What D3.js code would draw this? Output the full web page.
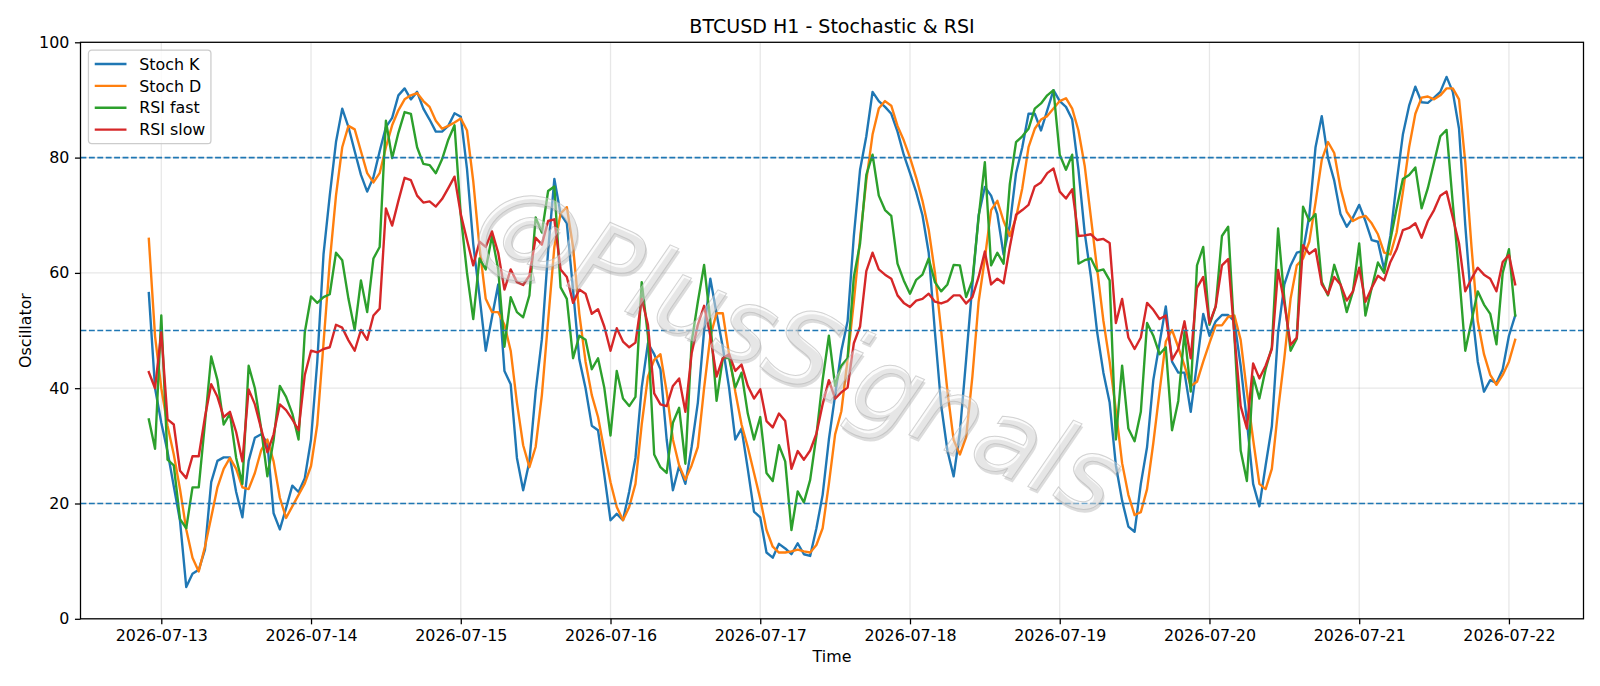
<!DOCTYPE html>
<html>
<head>
<meta charset="utf-8">
<script src="https://cdn.jsdelivr.net/npm/d3@7"></script>
<style>
  body { margin: 0; background: #fff; }
  svg { display: block; font-family: "DejaVu Sans", sans-serif; }
</style>
</head>
<body>
<script>
"use strict";
// hourly candles, the first one at 2026-07-12 22:00
const startTime = "2026-07-12T22:00:00Z"
const dayTicks = ["2026-07-13", "2026-07-14", "2026-07-15", "2026-07-16", "2026-07-17",
    "2026-07-18", "2026-07-19", "2026-07-20", "2026-07-21", "2026-07-22"]
const yTicks = [0, 20, 40, 60, 80, 100]
const levels = [80, 50, 20]
const seriesNames = ["Stoch K", "Stoch D", "RSI fast", "RSI slow"]
const watermark = "@PlusSignals"

const stochK = [
    56.5, 40, 34, 29, 23, 17, 5.5, 7.8, 8.5, 12,
    23.7, 27.4, 28, 28, 22, 17.6, 27.4, 31.4, 32, 30.5,
    18.3, 15.5, 19.2, 23.1, 22, 24.4, 31.1, 44.6, 63.2, 73.4,
    82.7, 88.5, 85.3, 81.1, 77, 74.1, 76.6, 81.1, 85.3, 86.9,
    90.8, 92, 90.1, 91.4, 88.5, 86.6, 84.5, 84.5, 85.5, 87.7,
    87.1, 78, 65, 56, 46.5, 52.3, 58, 43, 40.7, 27.9,
    22.3, 27.3, 39.4, 48.5, 63.8, 76.3, 70.2, 68.6, 57, 45,
    40, 33.5, 32.7, 25, 17.1, 18.2, 17.1, 22.1, 27.9, 40.1,
    47.8, 45.9, 43.3, 31.1, 22.3, 26.5, 23.4, 29.8, 37.5, 50,
    59, 52.9, 47.1, 40.1, 31.1, 33, 26, 18.6, 17.6, 11.5,
    10.6, 13, 12.2, 11.2, 13.1, 11.2, 10.9, 15.7, 21.5, 31.1,
    38.8, 46.5, 51.6, 66.4, 77.9, 83.7, 91.4, 89.8, 88.8, 87.6,
    84.5, 80.5, 77.3, 74, 70, 63.5, 49.7, 37, 29.2, 24.7,
    32.4, 45, 58, 70, 74.9, 73.4, 70.2, 63.2, 68.3, 77.3,
    81.8, 87.6, 87.6, 84.7, 88.2, 91.7, 89.8, 88.8, 86.6, 77.9,
    67, 59.3, 49.7, 42.7, 37.5, 26.6, 20.5, 16, 15.1, 23.4,
    29.8, 41.4, 47.8, 54.2, 44.6, 42.7, 42.7, 35.9, 44.3, 52.9,
    49.1, 51.6, 52.7, 52.7, 51.6, 43.9, 34.3, 23.4, 19.5, 26.6,
    33.4, 49.7, 58, 61.3, 63.5, 63.8, 69.9, 81.8, 87.2, 79.9,
    76, 70.2, 68, 69.6, 71.8, 69, 65.7, 65.4, 60.6, 66.4,
    75.7, 84, 89, 92.3, 89.6, 89.5, 90.4, 91.4, 94, 91.4,
    85, 68.3, 54.2, 44.6, 39.4, 41.4, 40.9, 43.3, 49.1, 52.6
]
const stochD = [
    65.9, 49, 40, 33.5, 28.5, 22.5, 15.5, 10.6, 8.2, 12.5,
    17.6, 22.8, 26, 27.9, 26, 22.8, 22.5, 25.3, 29.2, 31.1,
    27.3, 21, 17.5, 19.5, 21.5, 23.5, 26.5, 33.7, 47.8, 61.9,
    73.4, 81.8, 85.5, 84.9, 81.1, 77.3, 75.7, 77.3, 81.8, 85.6,
    88.2, 90.1, 90.8, 91.2, 89.8, 88.8, 86.4, 85, 85.5, 86.1,
    86.8, 84.7, 75.9, 64.5, 55.5, 53.2, 53.2, 51, 46.5, 37.5,
    30.1, 26.3, 29.8, 38.8, 51.7, 64.5, 70.3, 71.4, 64.5, 52.9,
    44.6, 38.8, 35, 29.2, 23.7, 19.4, 17.1, 19.4, 23.4, 33.7,
    42, 44.9, 45.9, 39.4, 31.1, 26.6, 24.1, 26.6, 29.8, 40,
    49, 53, 53, 45.9, 39.4, 33.7, 29.8, 25.3, 20.8, 15.4,
    12.5, 11.5, 11.5, 11.7, 12, 11.7, 11.5, 12.8, 15.7, 23.4,
    32, 36, 45, 55, 66, 76, 84, 88.5, 89.8, 89,
    85.5, 83, 80, 76.5, 72.5, 67.5, 60, 50, 39.5, 31,
    28.5, 31.5, 42, 55, 62.5, 70.9, 72.5, 69, 66.4, 69.6,
    74.7, 81.8, 85, 86.6, 87.2, 88.5, 89.8, 90.3, 88.5, 84.7,
    78.6, 69.6, 60.6, 51.7, 44.6, 36.2, 27, 21.5, 18, 18.5,
    22.5, 30.5, 39.4, 48.1, 50.1, 47.1, 43.9, 40.4, 41.1, 44.6,
    47.8, 50.9, 50.9, 52.4, 52.6, 48.4, 39.4, 31.1, 23.4, 22.5,
    26, 36.2, 45.2, 55.5, 61.3, 62.5, 65.4, 72.2, 79.6, 82.7,
    80.8, 74.7, 70.6, 69, 69.6, 69.9, 68.6, 66.7, 63.5, 63.2,
    67, 74, 81.8, 87.6, 90.4, 90.6, 90.1, 90.8, 92, 92,
    90.1, 79.2, 64.5, 51.6, 45.9, 42.3, 40.6, 42.3, 44.6, 48.4
]
const rsiFast = [
    34.6, 29.5, 52.6, 27.6, 26.6, 17.3, 15.7, 22.8, 22.8, 34,
    45.5, 41.4, 33.7, 35.6, 27.9, 23.4, 43.9, 40, 33, 24.7,
    31, 40.4, 38.5, 35.6, 31.1, 49.7, 55.9, 54.8, 55.8, 56.3,
    63.5, 62.2, 55.5, 50.1, 58.7, 53.2, 62.5, 64.5, 86.4, 79.9,
    84.3, 87.9, 87.6, 81.8, 78.9, 78.7, 77.3, 79.7, 83.1, 85.6,
    70, 60, 52, 62.5, 60.6, 66.4, 60.6, 47.2, 55.8, 53.2,
    52.3, 56.1, 69.6, 67, 74.2, 75, 57.5, 55.5, 45.2, 49.1,
    48.4, 43.3, 45.2, 40.1, 31.8, 43, 38.2, 36.9, 38.5, 58.4,
    49.1, 28.5, 26.3, 25.3, 34, 36.6, 26.9, 48, 55, 61.4,
    51.6, 37.8, 45.2, 45.3, 40.1, 42.7, 35.6, 31.1, 35, 25.3,
    23.9, 30.1, 27.3, 15.4, 22.1, 20.2, 24.1, 31.8, 41.4, 49.1,
    40.4, 43.9, 45.2, 59.3, 65.1, 77, 80.5, 73.4, 70.9, 69.9,
    61.6, 58.7, 56.4, 58.8, 59.7, 62.5, 58.4, 56.8, 58, 61.4,
    61.3, 55.8, 58.7, 69.6, 79.2, 61.3, 63.5, 61.6, 75.4, 82.7,
    83.7, 85, 88.5, 89.4, 90.8, 91.7, 80.5, 77.9, 80.5, 61.6,
    62.2, 62.5, 60.3, 60.6, 58.7, 31.1, 43.9, 33, 30.8, 35.9,
    51.3, 49.1, 45.9, 47.1, 32.7, 37.8, 49.7, 39.4, 61.3, 64.5,
    51, 54.2, 66.4, 68, 49.1, 29.2, 23.9, 42, 38.2, 43.3,
    47.1, 67.7, 55.5, 46.5, 48.6, 71.5, 69, 70.2, 58.4, 56.1,
    61.4, 58, 53.2, 56.8, 65.1, 52.6, 57.4, 61.8, 60, 65.7,
    71.2, 76.3, 77, 78.3, 71.2, 74.7, 79.2, 83.7, 84.8, 72,
    60, 46.5, 51.6, 56.8, 54.5, 52.9, 47.6, 60, 64.1, 52.6
]
const rsiSlow = [
    42.8, 40, 49.7, 34.6, 33.7, 25.7, 24.4, 28.2, 28.2, 35,
    40.7, 38.5, 35, 35.9, 32.4, 27.3, 39.8, 37.2, 33, 28.9,
    32, 37.2, 36.2, 34.6, 32.7, 42.3, 46.5, 46.2, 46.8, 47.1,
    51, 50.5, 48.3, 46.5, 50.1, 48.4, 52.6, 53.8, 71.2, 68.2,
    72.5, 76.5, 76.1, 73.4, 72.2, 72.4, 71.5, 72.8, 74.7, 76.7,
    70.2, 65.7, 61.3, 65.4, 64.5, 67.2, 63.5, 57.1, 60.6, 58.4,
    57.9, 59.5, 66.1, 64.9, 69, 69.3, 60.6, 59.3, 54.8, 57.1,
    56.4, 52.9, 53.7, 50.7, 46.5, 50.4, 48.1, 47.1, 47.9, 55.5,
    51, 39.1, 37.2, 36.9, 40.4, 41.7, 35.9, 46, 51, 54.3,
    49.1, 42, 45.2, 45.9, 43, 44.1, 40.4, 38.2, 39.8, 34.3,
    33.2, 35.6, 34.3, 26, 29.1, 27.6, 29.2, 32.1, 37.2, 41.4,
    38.2, 39.3, 40.1, 47.8, 50.7, 60.3, 63.5, 60.6, 59.7, 59,
    56.1, 54.8, 54.1, 55.2, 55.5, 56.4, 55, 54.7, 55.1, 56.1,
    56.1, 54.7, 55.8, 59.3, 63.7, 58, 59, 58.2, 64.5, 70.1,
    70.9, 71.8, 75, 75.7, 77.3, 78.1, 74.1, 72.9, 74.5, 66.4,
    66.5, 66.7, 65.7, 65.9, 65.2, 51.3, 55.5, 48.8, 46.8, 48.8,
    54.8, 53.6, 52, 52.6, 44.9, 46.8, 51.6, 45.2, 57.4, 59.3,
    51.3, 54.2, 61.3, 62.4, 49.1, 36.9, 33, 44.3, 41.7, 43.9,
    46.8, 60.5, 54.8, 47.5, 48.8, 64.8, 63.3, 64.1, 58, 56.3,
    59.3, 58, 55.2, 56.8, 60.9, 55, 57.4, 59.5, 58.7, 61.9,
    64.1, 67.4, 67.8, 68.6, 66.1, 69, 70.9, 73.4, 74.1, 69.6,
    65.1, 56.8, 59, 60.9, 59.7, 59, 56.8, 61.9, 63.1, 58
]

const colors = ["#1f77b4", "#ff7f0e", "#2ca02c", "#d62728"]

// figure is 14x6 in at ~114 dpi, so 1pt = 1.587px
const pt = 1600 / 14 / 72
const measurements = {
    width: 1600,
    height: 686,
    left: 80.5,
    right: 1583.5,
    top: 42.3,
    bottom: 618.8
}
const fontSize = 10 * pt

const svgContainer = d3.select('body').append('svg')
    .attr('width', measurements.width)
    .attr('height', measurements.height)

const hour = 3600 * 1000
const t0 = new Date(startTime)
const times = stochK.map((d, i) => new Date(t0.getTime() + i * hour))
const tEnd = times[times.length - 1]
const pad = (tEnd - t0) * 0.05

const scaleX = d3.scaleUtc()
    .domain([new Date(t0.getTime() - pad), new Date(tEnd.getTime() + pad)])
    .range([measurements.left, measurements.right])
const scaleY = d3.scaleLinear()
    .domain([0, 100])
    .range([measurements.bottom, measurements.top])

drawGrid()
plotData()
drawLevels()
drawWatermark()
drawAxes()
drawLegend()
drawTexts()

function drawGrid() {
    const g = svgContainer.append('g')
        .attr('stroke', '#b0b0b0')
        .attr('stroke-opacity', 0.3)
        .attr('stroke-width', 0.8 * pt)
    g.selectAll('.vgrid')
        .data(dayTicks)
        .enter()
        .append('line')
            .attr('x1', d => scaleX(new Date(d + "T00:00:00Z")))
            .attr('x2', d => scaleX(new Date(d + "T00:00:00Z")))
            .attr('y1', measurements.top)
            .attr('y2', measurements.bottom)
    g.selectAll('.hgrid')
        .data(yTicks)
        .enter()
        .append('line')
            .attr('x1', measurements.left)
            .attr('x2', measurements.right)
            .attr('y1', d => scaleY(d))
            .attr('y2', d => scaleY(d))
}

function plotData() {
    const all = [stochK, stochD, rsiFast, rsiSlow]
    const line = d3.line()
        .x((d, i) => scaleX(times[i]))
        .y(d => scaleY(d))
    svgContainer.selectAll('.series')
        .data(all)
        .enter()
        .append('path')
            .attr('d', d => line(d))
            .attr('fill', 'none')
            .attr('stroke', (d, i) => colors[i])
            .attr('stroke-width', 1.5 * pt)
            .attr('stroke-linejoin', 'round')
            .attr('stroke-linecap', 'square')
}

function drawLevels() {
    svgContainer.selectAll('.level')
        .data(levels)
        .enter()
        .append('line')
            .attr('x1', measurements.left)
            .attr('x2', measurements.right)
            .attr('y1', d => scaleY(d))
            .attr('y2', d => scaleY(d))
            .attr('stroke', colors[0])
            .attr('stroke-width', 1 * pt)
            .attr('stroke-dasharray', (3.7 * pt) + ',' + (1.6 * pt))
}

function drawWatermark() {
    // thin grey outlined letters with a soft shadow, lines stay visible
    const cx = 797, cy = 352
    const wm = svgContainer.append('g')
        .attr('transform', 'translate(' + cx + ',' + cy + ') rotate(23.5)')
        .style('font-size', '104px')
        .style('font-style', 'italic')
        .attr('text-anchor', 'middle')
    wm.append('text')
        .attr('x', 2.5).attr('y', 2.5)
        .attr('dy', '0.3em')
        .attr('fill', '#8c8c8c')
        .attr('fill-opacity', 0.3)
        .text(watermark)
    wm.append('text')
        .attr('dy', '0.3em')
        .attr('fill', '#f4f4f4')
        .attr('fill-opacity', 0.4)
        .attr('stroke', '#b5b5b5')
        .attr('stroke-opacity', 0.6)
        .attr('stroke-width', 1)
        .text(watermark)
}

function drawAxes() {
    const xAxis = d3.axisBottom(scaleX)
        .tickValues(dayTicks.map(d => new Date(d + "T00:00:00Z")))
        .tickFormat(d3.utcFormat('%Y-%m-%d'))
        .tickSizeOuter(0)
        .tickSize(3.5 * pt)
        .tickPadding(3.5 * pt)
    const yAxis = d3.axisLeft(scaleY)
        .tickValues(yTicks)
        .tickSizeOuter(0)
        .tickSize(3.5 * pt)
        .tickPadding(3.5 * pt)

    const gx = svgContainer.append('g')
        .attr('transform', 'translate(0,' + measurements.bottom + ')')
        .call(xAxis)
    const gy = svgContainer.append('g')
        .attr('transform', 'translate(' + measurements.left + ',0)')
        .call(yAxis)
    for (const g of [gx, gy]) {
        g.select('.domain').remove()
        g.selectAll('line').attr('stroke', '#000').attr('stroke-width', 0.8 * pt)
        g.selectAll('text')
            .attr('fill', '#000')
            .style('font-family', '"DejaVu Sans", sans-serif')
            .style('font-size', fontSize + 'px')
    }
    // frame of the axes
    svgContainer.append('rect')
        .attr('x', measurements.left)
        .attr('y', measurements.top)
        .attr('width', measurements.right - measurements.left)
        .attr('height', measurements.bottom - measurements.top)
        .attr('fill', 'none')
        .attr('stroke', '#000')
        .attr('stroke-width', 0.8 * pt)
}

function drawLegend() {
    const x0 = measurements.left + 0.5 * fontSize
    const y0 = measurements.top + 0.5 * fontSize
    const rowH = 21.9
    const legend = svgContainer.append('g')
        .attr('transform', 'translate(' + x0 + ',' + y0 + ')')
    legend.append('rect')
        .attr('width', 122.5)
        .attr('height', 93.5)
        .attr('rx', 3.2)
        .attr('fill', '#fff')
        .attr('fill-opacity', 0.8)
        .attr('stroke', '#cccccc')
        .attr('stroke-width', 1.27)
    const items = legend.selectAll('.legend')
        .data(seriesNames)
        .enter()
        .append('g')
        .attr('transform', (d, i) => 'translate(0,' + (13.7 + i * rowH) + ')')
    items.append('line')
        .attr('x1', 6.3)
        .attr('x2', 6.3 + 2 * fontSize)
        .attr('stroke', (d, i) => colors[i])
        .attr('stroke-width', 1.5 * pt)
    items.append('text')
        .attr('x', 6.3 + 2.8 * fontSize)
        .attr('dy', '0.36em')
        .style('font-size', fontSize + 'px')
        .text(d => d)
}

function drawTexts() {
    svgContainer.append('text')
        .attr('x', (measurements.left + measurements.right) / 2)
        .attr('y', 33)
        .attr('text-anchor', 'middle')
        .style('font-size', (12 * pt) + 'px')
        .text('BTCUSD H1 - Stochastic & RSI')

    svgContainer.append('text')
        .attr('x', (measurements.left + measurements.right) / 2)
        .attr('y', 662)
        .attr('text-anchor', 'middle')
        .style('font-size', fontSize + 'px')
        .text('Time')

    svgContainer.append('text')
        .attr('transform', 'translate(31,' + (measurements.top + measurements.bottom) / 2 + ') rotate(-90)')
        .attr('text-anchor', 'middle')
        .style('font-size', fontSize + 'px')
        .text('Oscillator')
}
</script>
</body>
</html>
